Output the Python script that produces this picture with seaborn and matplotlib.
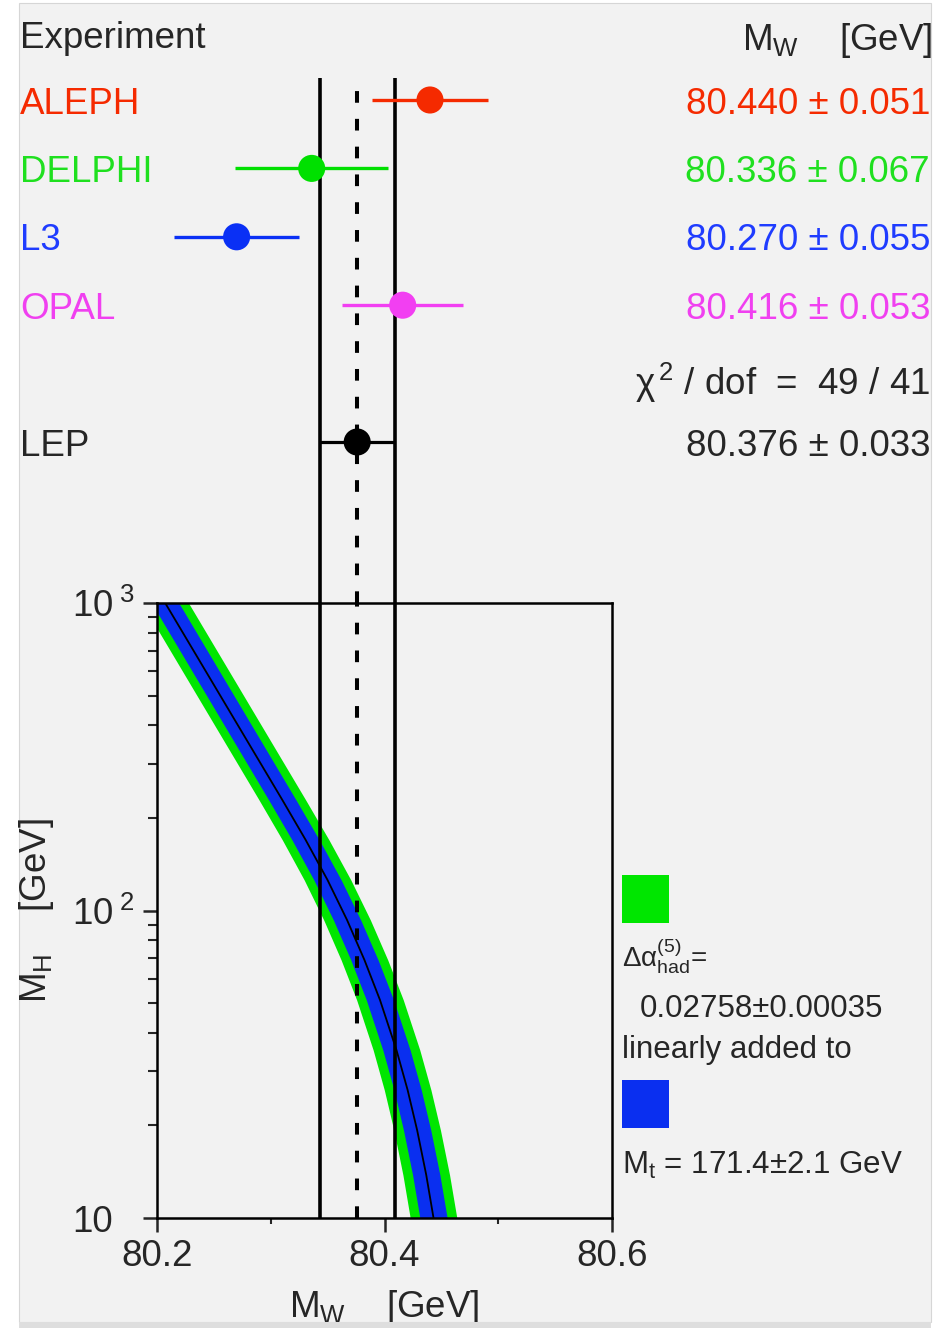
import numpy as np
import pandas as pd
import matplotlib
matplotlib.use("Agg")
import matplotlib.pyplot as plt
import matplotlib.transforms as mtransforms
from matplotlib.patches import Rectangle
from matplotlib.ticker import FixedLocator, NullFormatter
import seaborn as sns

# ---- measurements of the W mass (GeV) ----
experiments = ["ALEPH", "DELPHI", "L3", "OPAL"]
mw_values = [80.440, 80.336, 80.270, 80.416]
mw_errors = [0.051, 0.067, 0.055, 0.053]
exp_rows = [5, 4, 3, 2]
marker_colors = ["#f52a00", "#00e000", "#0a30f5", "#f23ff2"]
text_colors = ["#f52a00", "#1fe01f", "#1f3cff", "#f040f0"]

lep_label = "LEP"
lep_mw = 80.376
lep_err = 0.033
lep_row = 0
chi2_row = 0.93
chi2_value = "49 / 41"

# ---- SM prediction of M_W versus M_H ----
mh_nodes = [10, 13.8, 19.3, 26.1, 35.2, 51.2, 69.0, 93.1, 125.7, 169.6, 228.8, 483.8, 1000]
mw_center = [80.4431, 80.4367, 80.4287, 80.4203, 80.4105, 80.3960, 80.3824,
             80.3671, 80.3499, 80.3307, 80.3102, 80.2579, 80.2072]
halfwidth_alpha = 0.0205   # green: Delta alpha_had added linearly to M_t
halfwidth_mt = 0.0120      # blue: M_t only

alpha_text = r"$\Delta\alpha^{(5)}_{had}$="
alpha_value = "0.02758±0.00035"
link_text = "linearly added to"
mt_text = r"$M_t$ = 171.4±2.1 GeV"

xticks_major = [80.2, 80.4, 80.6]
xticks_minor = [80.3, 80.5]
xtick_labels = ["80.2", "80.4", "80.6"]
yticks_major = [10, 100, 1000]
ytick_labels = ["10", r"$10^{\;2}$", r"$10^{\;3}$"]
yticks_minor = [20, 30, 40, 50, 60, 70, 80, 90, 200, 300, 400, 500, 600, 700, 800, 900]

GREEN = "#00e600"
BLUE = "#0a2ff0"
PANEL = "#f2f2f2"

sns.set_style("ticks")
plt.rcParams["font.family"] = ["Liberation Sans", "DejaVu Sans"]
plt.rcParams["mathtext.fontset"] = "custom"
plt.rcParams["mathtext.rm"] = "Liberation Sans"
plt.rcParams["mathtext.it"] = "Liberation Sans:italic"
plt.rcParams["mathtext.bf"] = "Liberation Sans:bold"
plt.rcParams["mathtext.default"] = "regular"

W, H = 949, 1328
DPI = 100
FS = 26.5


def fx(px):
    return px / W


def fy(py):
    return 1 - py / H


fig = plt.figure(figsize=(W / DPI, H / DPI), dpi=DPI, facecolor="white")

# grey canvas
fig.patches.append(Rectangle((fx(19), fy(1322)), fx(931) - fx(19), fy(3) - fy(1322),
                             transform=fig.transFigure, facecolor=PANEL,
                             edgecolor="#d6d6d6", linewidth=0.8, zorder=-10))
strip = Rectangle((fx(19), fy(1328)), fx(931) - fx(19), fy(1322) - fy(1328),
                  transform=fig.transFigure, facecolor="#dedede", edgecolor="none", zorder=20)
fig.add_artist(strip)

ax_left, ax_right = fx(157), fx(612)
ax = fig.add_axes([ax_left, fy(1218), ax_right - ax_left, fy(603) - fy(1218)])
axt = fig.add_axes([ax_left, fy(603), ax_right - ax_left, fy(3) - fy(603)])
for a in (ax, axt):
    a.set_facecolor("none")
    a.set_xlim(80.2, 80.6)

# ---------------- upper panel: measurements ----------------
row_px = 68.4
axt.set_ylim(-(603 - 442) / row_px, (442 - 3) / row_px)
axt.axis("off")

meas = pd.DataFrame({"experiment": experiments + [lep_label],
                     "mw": mw_values + [lep_mw],
                     "err": mw_errors + [lep_err],
                     "row": exp_rows + [lep_row]})
palette = dict(zip(meas["experiment"], marker_colors + ["black"]))

lo_band = lep_mw - lep_err
hi_band = lep_mw + lep_err
y_bottom = axt.get_ylim()[0]
axt.vlines([lo_band, hi_band], y_bottom, (442 - 78) / row_px, colors="black", lw=2.6, zorder=3)
axt.vlines([lep_mw], y_bottom, (442 - 82) / row_px, colors="black", lw=2.9,
           linestyles=(0, (2.9, 4.0)), zorder=3)

for _, r in meas.iterrows():
    axt.hlines(r["row"], r["mw"] - r["err"], r["mw"] + r["err"],
               colors=palette[r["experiment"]], lw=2.4 if r["experiment"] != lep_label else 2.3,
               zorder=4)
sns.scatterplot(data=meas, x="mw", y="row", hue="experiment", palette=palette,
                s=19.5 ** 2, edgecolor="none", legend=False, ax=axt, zorder=5, clip_on=False)

lab_tr = mtransforms.blended_transform_factory(fig.transFigure, axt.transData)
x_lab = fx(20)
x_val = fx(930)
header_row = (442 - 35) / row_px
axt.text(x_lab, header_row, "Experiment", transform=lab_tr, fontsize=FS,
         ha="left", va="center_baseline")
axt.text(fx(932), header_row, r"$M_W$    [GeV]", transform=lab_tr, fontsize=FS,
         ha="right", va="center_baseline")
for name, v, e, rr, c in zip(experiments, mw_values, mw_errors, exp_rows, text_colors):
    axt.text(x_lab, rr, name, transform=lab_tr, fontsize=FS, color=c,
             ha="left", va="center_baseline")
    axt.text(x_val, rr, f"{v:.3f} ± {e:.3f}", transform=lab_tr, fontsize=FS, color=c,
             ha="right", va="center_baseline")
axt.text(x_val, chi2_row, r"$χ^{\,2}$ / dof  =  " + chi2_value, transform=lab_tr,
         fontsize=FS, ha="right", va="center_baseline")
axt.text(x_lab, lep_row, lep_label, transform=lab_tr, fontsize=FS,
         ha="left", va="center_baseline")
axt.text(x_val, lep_row, f"{lep_mw:.3f} ± {lep_err:.3f}", transform=lab_tr, fontsize=FS,
         ha="right", va="center_baseline")

# ---------------- lower panel: M_H vs M_W ----------------
ax.set_yscale("log")
ax.set_ylim(10, 1000)
mh = np.array(mh_nodes)
mwc = np.array(mw_center)
ax.fill_betweenx(mh, mwc - halfwidth_alpha, mwc + halfwidth_alpha, color=GREEN, lw=0, zorder=1)
ax.fill_betweenx(mh, mwc - halfwidth_mt, mwc + halfwidth_mt, color=BLUE, lw=0, zorder=2)
curve = pd.DataFrame({"mh": mh, "mw": mwc})
sns.lineplot(data=curve, x="mw", y="mh", color="black", lw=1.3, sort=False,
             estimator=None, ax=ax, zorder=3)

ax.axvline(lo_band, color="black", lw=2.6, zorder=4)
ax.axvline(hi_band, color="black", lw=2.6, zorder=4)
ax.axvline(lep_mw, color="black", lw=2.9, linestyle=(0, (2.9, 4.0)), zorder=4)

for side in ["top", "right", "left", "bottom"]:
    ax.spines[side].set_visible(True)
    ax.spines[side].set_linewidth(1.8)
    ax.spines[side].set_color("black")

ax.xaxis.set_major_locator(FixedLocator(xticks_major))
ax.xaxis.set_minor_locator(FixedLocator(xticks_minor))
ax.set_xticklabels(xtick_labels)
ax.yaxis.set_major_locator(FixedLocator(yticks_major))
ax.yaxis.set_minor_locator(FixedLocator(yticks_minor))
ax.yaxis.set_minor_formatter(NullFormatter())
ax.set_yticklabels(ytick_labels)
ax.tick_params(axis="both", which="major", direction="out", length=10, width=1.8,
               labelsize=FS, top=False, right=False)
ax.tick_params(axis="x", which="major", pad=5)
ax.tick_params(axis="y", which="major", pad=51)
ax.tick_params(axis="y", which="minor", direction="out", length=6.5, width=1.5)
ax.tick_params(axis="x", which="minor", direction="out", length=4.5, width=1.5)
for lab in ax.get_yticklabels():
    lab.set_horizontalalignment("left")

ax.set_xlabel(r"$M_W$    [GeV]", fontsize=FS, labelpad=10)
ax.set_ylabel(r"$M_H$    [GeV]", fontsize=FS, labelpad=12)

# ---------------- band key ----------------
fig.patches.append(Rectangle((fx(622), fy(923)), fx(669) - fx(622), fy(875) - fy(923),
                             transform=fig.transFigure, facecolor=GREEN, edgecolor="none"))
fig.patches.append(Rectangle((fx(622), fy(1128)), fx(669) - fx(622), fy(1080) - fy(1128),
                             transform=fig.transFigure, facecolor=BLUE, edgecolor="none"))
fig.text(fx(622), fy(966), alpha_text, fontsize=20, ha="left", va="baseline")
fig.text(fx(640), fy(1017), alpha_value, fontsize=22.5, ha="left", va="baseline")
fig.text(fx(622), fy(1058), link_text, fontsize=22.5, ha="left", va="baseline")
fig.text(fx(622), fy(1174), mt_text, fontsize=22.5, ha="left", va="baseline")

fig.savefig("out.png", dpi=DPI, facecolor="white")
